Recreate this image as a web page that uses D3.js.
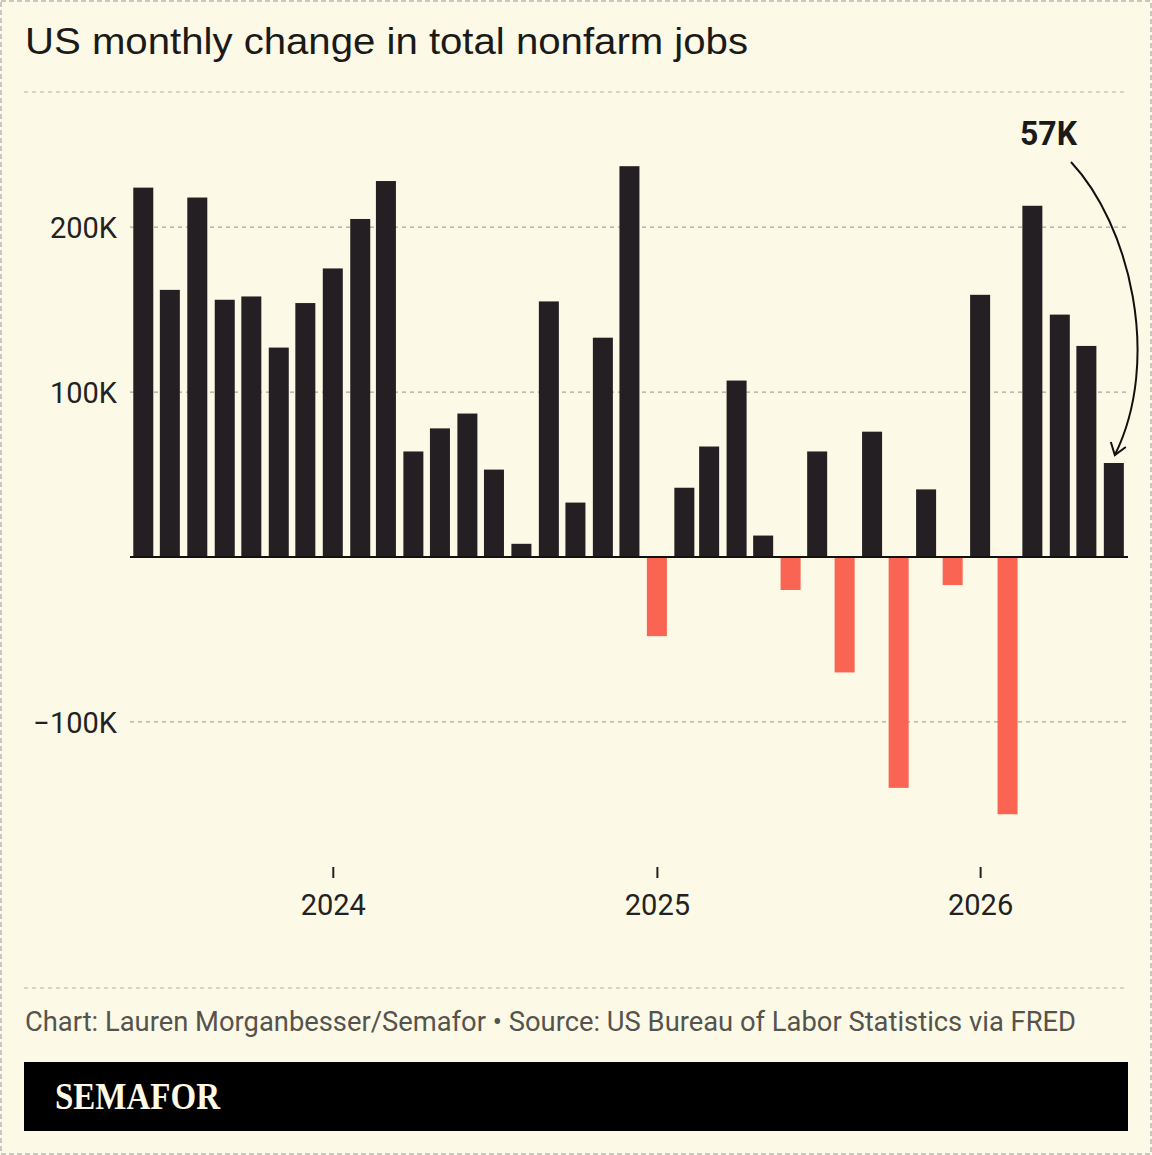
<!DOCTYPE html>
<html>
<head>
<meta charset="utf-8">
<script src="https://cdn.jsdelivr.net/npm/d3@7"></script>
<style>
  body { margin: 0; background: #fcf9e6; }
  svg { display: block; }
</style>
</head>
<body>
<div id="chart"></div>
<script>
// monthly change in total nonfarm jobs, in thousands (Jun 2023 .. Jun 2026)
const startMonth = "2023-06"
const jobs = [224, 162, 218, 156, 158, 127, 154, 175, 205, 228,
              64, 78, 87, 53, 8, 155, 33, 133, 237, -48,
              42, 67, 107, 13, -20, 64, -70, 76, -140, 41,
              -17, 159, -156, 213, 147, 128, 57]
const yTicks = [-100, 100, 200]
const xTicks = ["2024-01-01", "2025-01-01", "2026-01-01"]
const labelText = "57K"

const W = 1152, H = 1155
const margin = {top: 92, right: 24, bottom: 288, left: 130}

const parse = d3.utcParse("%Y-%m")
const months = jobs.map((v, i) => d3.utcMonth.offset(parse(startMonth), i))
const data = months.map((d, i) => ({date: d, value: jobs[i]}))

const svg = d3.select("#chart").append("svg")
    .attr("width", W)
    .attr("height", H)

svg.append("rect")
    .attr("width", W).attr("height", H)
    .attr("fill", "#fcf9e6")

// outer dashed frame
svg.append("rect")
    .attr("x", 1).attr("y", 1)
    .attr("width", W - 2).attr("height", H - 2)
    .attr("fill", "none")
    .attr("stroke", "#c9c8c0")
    .attr("stroke-width", 2)
    .attr("stroke-dasharray", "5,3")

// title
svg.append("text")
    .attr("x", 25).attr("y", 54)
    .attr("font-family", "Liberation Sans, Arial, sans-serif")
    .attr("font-size", 36)
    .attr("fill", "#1b1a19")
    .attr("textLength", 723)
    .attr("lengthAdjust", "spacingAndGlyphs")
    .text("US monthly change in total nonfarm jobs")

// separators
;[92, 988].forEach(y => {
    svg.append("line")
        .attr("x1", 24).attr("x2", 1128)
        .attr("y1", y).attr("y2", y)
        .attr("stroke", "#c9c8bd")
        .attr("stroke-width", 1.5)
        .attr("stroke-dasharray", "4,4")
})

// scales
const x = d3.scaleUtc()
    .domain([new Date(Date.UTC(2023, 4, 17)), new Date(Date.UTC(2026, 5, 17))])
    .range([margin.left, W - margin.right])

const y = d3.scaleLinear()
    .domain([-188, 282])
    .range([H - margin.bottom, margin.top])

const barW = 20

// grid
const grid = svg.append("g")
grid.selectAll("line")
    .data(yTicks)
    .join("line")
        .attr("x1", margin.left).attr("x2", W - margin.right)
        .attr("y1", d => y(d)).attr("y2", d => y(d))
        .attr("stroke", "#a9a79c")
        .attr("stroke-width", 1.2)
        .attr("stroke-dasharray", "4,4")

// y labels
svg.append("g").selectAll("text")
    .data(yTicks)
    .join("text")
        .attr("x", 117)
        .attr("y", d => y(d) + 11)
        .attr("text-anchor", "end")
        .attr("font-family", "Roboto, sans-serif")
        .attr("font-size", 29)
        .attr("fill", "#222")
        .text(d => (d < 0 ? "\u2212" : "") + Math.abs(d) + "K")

// bars
svg.append("g").selectAll("rect")
    .data(data)
    .join("rect")
        .attr("x", d => x(d.date) - barW / 2)
        .attr("width", barW)
        .attr("y", d => y(Math.max(0, d.value)))
        .attr("height", d => Math.abs(y(d.value) - y(0)))
        .attr("fill", d => d.value < 0 ? "#f96453" : "#231f22")

// zero line
svg.append("line")
    .attr("x1", margin.left).attr("x2", W - margin.right)
    .attr("y1", y(0)).attr("y2", y(0))
    .attr("stroke", "#111")
    .attr("stroke-width", 2)

// x axis
const xAxis = d3.axisBottom(x)
    .tickValues(xTicks.map(d => new Date(d)))
    .tickFormat(d3.utcFormat("%Y"))
    .tickSize(11)
    .tickPadding(16)

svg.append("g")
    .attr("transform", `translate(0, ${H - margin.bottom})`)
    .call(xAxis)
    .call(g => g.select(".domain").remove())
    .call(g => g.selectAll(".tick line").attr("stroke", "#222").attr("stroke-width", 2))
    .call(g => g.selectAll(".tick text")
        .attr("font-family", "Roboto, sans-serif")
        .attr("font-size", 29)
        .attr("fill", "#222"))

// annotation on last bar
const last = data[data.length - 1]
const tipX = x(last.date) + 1, tipY = y(last.value) - 8
svg.append("text")
    .attr("x", 1020).attr("y", 145)
    .attr("font-family", "Roboto, sans-serif")
    .attr("font-weight", "bold")
    .attr("font-size", 33)
    .attr("fill", "#1b1a19")
    .attr("textLength", 57)
    .attr("lengthAdjust", "spacingAndGlyphs")
    .text(labelText)

svg.append("path")
    .attr("d", `M1071,162 C1130,225 1162,360 ${tipX},${tipY}`)
    .attr("fill", "none")
    .attr("stroke", "#111")
    .attr("stroke-width", 2)

svg.append("path")
    .attr("d", `M${tipX - 4},${tipY - 13} L${tipX},${tipY} L${tipX + 11},${tipY - 8}`)
    .attr("fill", "none")
    .attr("stroke", "#111")
    .attr("stroke-width", 2)

// source
svg.append("text")
    .attr("x", 25).attr("y", 1031)
    .attr("font-family", "Roboto, sans-serif")
    .attr("font-size", 27)
    .attr("fill", "#55534d")
    .attr("textLength", 1051)
    .attr("lengthAdjust", "spacingAndGlyphs")
    .text("Chart: Lauren Morganbesser/Semafor \u2022 Source: US Bureau of Labor Statistics via FRED")

// logo banner
svg.append("rect")
    .attr("x", 24).attr("y", 1062)
    .attr("width", 1104).attr("height", 69)
    .attr("fill", "#000")

svg.append("text")
    .attr("x", 55).attr("y", 1109)
    .attr("font-family", "Liberation Serif, serif")
    .attr("font-weight", "bold")
    .attr("font-size", 37)
    .attr("fill", "#fcf9e6")
    .attr("textLength", 165)
    .attr("lengthAdjust", "spacingAndGlyphs")
    .text("SEMAFOR")
</script>
</body>
</html>
